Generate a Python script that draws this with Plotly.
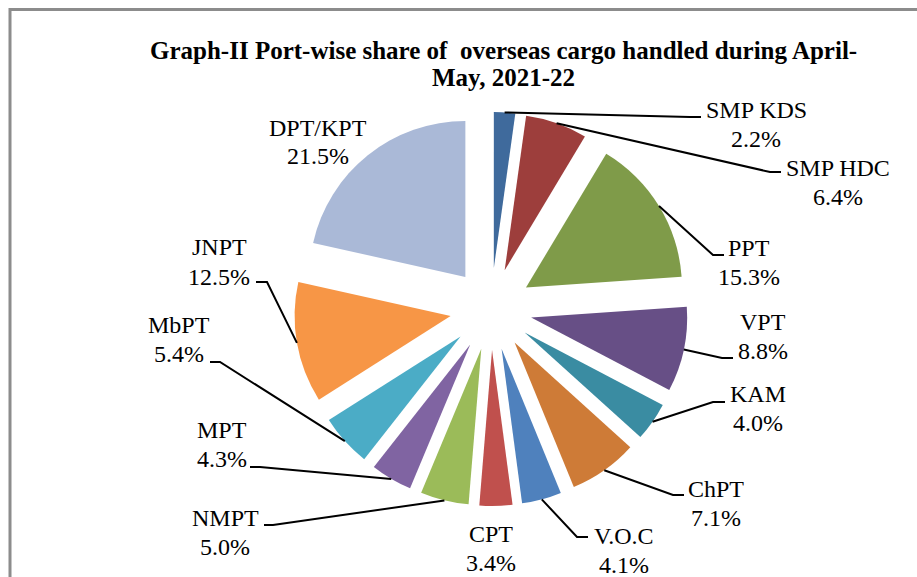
import math
import plotly.graph_objects as go

# ---------------- data ----------------
ports = ["SMP KDS", "SMP HDC", "PPT", "VPT", "KAM", "ChPT", "V.O.C",
         "CPT", "NMPT", "MPT", "MbPT", "JNPT", "DPT/KPT"]
shares = [2.2, 6.4, 15.3, 8.8, 4.0, 7.1, 4.1, 3.4, 5.0, 4.3, 5.4, 12.5, 21.5]
colors = ["#3F6A9C", "#9D3E3C", "#7F9B49", "#674F86", "#3A8CA2", "#CE7B37",
          "#4F81BD", "#C0504D", "#9BBB59", "#8064A2", "#4BACC6", "#F79646",
          "#AAB9D7"]
title_lines = ["Graph-II Port-wise share of \u00a0overseas cargo handled during April-",
               "May, 2021-22"]

# ---------------- layout constants (pixels) ----------------
W, H = 917, 577
CX, CY = 491, 309      # pie centre
R = 156                # slice radius
PULL = 0.263           # explosion as fraction of radius
FONT = "Liberation Serif, Times New Roman, serif"
FS = 24
LINE_GAP = 14.5

# label block centre (x, y), leader elbow, leader end (None = no leader)
label_pos = {
    "SMP KDS": ((756, 125), (690, 117), (701, 117)),
    "SMP HDC": ((838, 182), (770, 172), (781, 172)),
    "PPT":     ((749, 263), (713, 255), (724, 255)),
    "VPT":     ((763, 336), (722, 358), (733, 358)),
    "KAM":     ((758, 408), (713, 402), (725, 402)),
    "ChPT":    ((716, 503), (673, 495), (684, 495)),
    "V.O.C":   ((624, 550), (577, 537), (588, 537)),
    "CPT":     ((491, 548), None, None),
    "NMPT":    ((225, 532), (273, 525), (264, 525)),
    "MPT":     ((222, 444), (260, 467), (250, 467)),
    "MbPT":    ((179, 339), (220, 362), (210, 362)),
    "JNPT":    ((219, 262), (267, 282), (256, 282)),
    "DPT/KPT": ((318, 142), None, None),
}
title_y = [50, 78]
title_x = 503


def px(x):
    return x / W


def py(y):
    return 1 - y / H


half = R * (1 + PULL)
fig = go.Figure(go.Pie(
    labels=ports,
    values=shares,
    sort=False,
    direction="clockwise",
    rotation=0,
    pull=[PULL] * len(ports),
    marker=dict(colors=colors, line=dict(width=0)),
    textinfo="none",
    hoverinfo="label+percent",
    showlegend=False,
    domain=dict(x=[px(CX - half), px(CX + half)],
                y=[py(CY + half), py(CY - half)]),
))

annotations = []
shapes = []
total = sum(shares)
cum = 0.0
for name, v in zip(ports, shares):
    mid = (cum + v / 2) / total * 2 * math.pi
    cum += v
    ax = CX + half * math.sin(mid)
    ay = CY - half * math.cos(mid)
    (tx, ty), elbow, end = label_pos[name]
    pct = f"{v / total * 100:.1f}%"
    for txt, dy in ((name, -LINE_GAP), (pct, LINE_GAP)):
        annotations.append(dict(
            x=px(tx), y=py(ty + dy), xref="paper", yref="paper",
            text=txt, showarrow=False, xanchor="center", yanchor="middle",
            font=dict(family=FONT, size=FS, color="black")))
    if elbow is not None:
        path = (f"M {px(ax)},{py(ay)} L {px(elbow[0])},{py(elbow[1])} "
                f"L {px(end[0])},{py(end[1])}")
        shapes.append(dict(type="path", xref="paper", yref="paper", path=path,
                           line=dict(color="black", width=2)))

# title (two lines)
for txt, ty in zip(title_lines, title_y):
    annotations.append(dict(
        x=px(title_x), y=py(ty), xref="paper", yref="paper",
        text=f"<b>{txt}</b>",
        showarrow=False, xanchor="center", yanchor="middle", align="center",
        font=dict(family=FONT, size=25, color="black")))

# chart frame (cut off at right and bottom)
shapes.append(dict(type="rect", xref="paper", yref="paper",
                   x0=px(10), x1=1.05, y0=-0.05, y1=py(9.5),
                   line=dict(color="#8C8C8C", width=3)))

fig.update_layout(
    width=W, height=H,
    margin=dict(l=0, r=0, t=0, b=0),
    paper_bgcolor="white",
    plot_bgcolor="white",
    annotations=annotations,
    shapes=shapes,
)

fig.write_html("out.html",
               config={"displayModeBar": False},
               post_script="document.body.style.margin='0';"
                           "document.body.style.overflow='hidden';")
